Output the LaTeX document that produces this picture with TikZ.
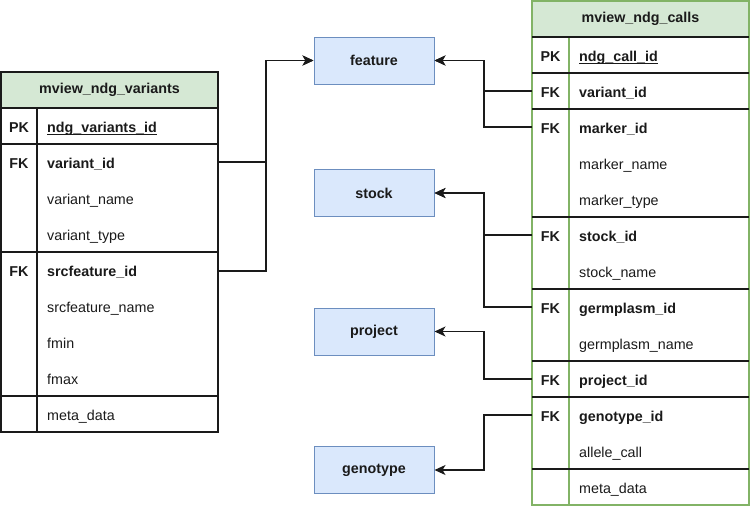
\documentclass[tikz,border=0pt]{standalone}
\usepackage{fontspec}
\setmainfont{Liberation Sans}
\usetikzlibrary{arrows.meta}
\definecolor{gborder}{HTML}{82B366}
\definecolor{gfill}{HTML}{D5E8D4}
\definecolor{bborder}{HTML}{6C8EBF}
\definecolor{bfill}{HTML}{DAE8FC}
\definecolor{ink}{HTML}{1A1A1A}
\begin{document}
\begin{tikzpicture}[x=1pt,y=-1pt,
  txt/.style={font=\fontsize{14.3}{16}\selectfont, text=ink, inner sep=0pt},
  btxt/.style={font=\fontsize{14.3}{16}\selectfont\bfseries, text=ink, inner sep=0pt},
  fld/.style={txt, anchor=base west},
  bfld/.style={btxt, anchor=base west},
  keyt/.style={btxt, anchor=base},
  tline/.style={draw=ink, line width=1.2pt},
  gline/.style={draw=gborder, line width=1.4pt},
  hdrL/.style={btxt, tline, fill=gfill, minimum width=217pt, minimum height=36pt, anchor=north west, outer sep=0pt},
  hdrR/.style={btxt, gline, fill=gfill, minimum width=217pt, minimum height=36pt, anchor=north west, outer sep=0pt},
  ent/.style={btxt, draw=bborder, fill=bfill, line width=1pt, minimum width=120pt, minimum height=47pt},
  conn/.style={draw=ink, line width=1.2pt, -{Stealth[length=11pt,width=10pt,inset=3pt]}},
  ulin/.style={draw=ink, line width=1pt}
]
\useasboundingbox (0,0) rectangle (750,507);

% ---------------- left table ----------------
\node[tline, minimum width=217pt, minimum height=324pt, anchor=north west, inner sep=0pt, outer sep=0pt] (LT) at (1,108) {};
\node[hdrL] (LH) at (1,72) {mview\_ndg\_variants};
\draw[tline] (1,144) -- (218,144);
\draw[tline] (1,252) -- (218,252);
\draw[tline] (1,396) -- (218,396);
\draw[tline] (37,108) -- (37,432);

\node[keyt] (lk1) at (19,132) {PK};
\node[bfld] (lf1) at (47,132) {ndg\_variants\_id};
\draw[ulin] ([yshift=-2pt]lf1.base west) -- ([yshift=-2pt]lf1.base east);
\node[keyt] (lk2) at (19,168) {FK};
\node[bfld] (lf2) at (47,168) {variant\_id};
\node[fld] (lf3) at (47,204) {variant\_name};
\node[fld] (lf4) at (47,240) {variant\_type};
\node[keyt] (lk5) at (19,276) {FK};
\node[bfld] (lf5) at (47,276) {srcfeature\_id};
\node[fld] (lf6) at (47,312) {srcfeature\_name};
\node[fld] (lf7) at (47,348) {fmin};
\node[fld] (lf8) at (47,384) {fmax};
\node[fld] (lf9) at (47,420) {meta\_data};

\coordinate (Lv) at (218,162);
\coordinate (Ls) at (218,271);

% ---------------- right table ----------------
\node[gline, minimum width=217pt, minimum height=468pt, anchor=north west, inner sep=0pt, outer sep=0pt] (RT) at (532,37) {};
\node[hdrR] (RH) at (532,1) {mview\_ndg\_calls};
\draw[gline] (569,37) -- (569,505);
\foreach \yy in {37,73,109,217,289,361,397,469}
  \draw[tline] (532,\yy) -- (749,\yy);

\node[keyt] (rk1) at (550.5,61) {PK};
\node[bfld] (rf1) at (579,61) {ndg\_call\_id};
\draw[ulin] ([yshift=-2pt]rf1.base west) -- ([yshift=-2pt]rf1.base east);
\node[keyt] (rk2) at (550.5,97) {FK};
\node[bfld] (rf2) at (579,97) {variant\_id};
\node[keyt] (rk3) at (550.5,133) {FK};
\node[bfld] (rf3) at (579,133) {marker\_id};
\node[fld] (rf4) at (579,169) {marker\_name};
\node[fld] (rf5) at (579,205) {marker\_type};
\node[keyt] (rk6) at (550.5,241) {FK};
\node[bfld] (rf6) at (579,241) {stock\_id};
\node[fld] (rf7) at (579,277) {stock\_name};
\node[keyt] (rk8) at (550.5,313) {FK};
\node[bfld] (rf8) at (579,313) {germplasm\_id};
\node[fld] (rf9) at (579,349) {germplasm\_name};
\node[keyt] (rk10) at (550.5,385) {FK};
\node[bfld] (rf10) at (579,385) {project\_id};
\node[keyt] (rk11) at (550.5,421) {FK};
\node[bfld] (rf11) at (579,421) {genotype\_id};
\node[fld] (rf12) at (579,457) {allele\_call};
\node[fld] (rf13) at (579,493) {meta\_data};

\coordinate (Rv) at (532,91);
\coordinate (Rm) at (532,127);
\coordinate (Rs) at (532,235);
\coordinate (Rg) at (532,307);
\coordinate (Rp) at (532,379);
\coordinate (Rt) at (532,415);

% ---------------- entities ----------------
\node[ent] (feature) at (374,60.5) {feature};
\node[ent] (stock) at (374,193) {stock};
\node[ent] (project) at (374,331.5) {project};
\node[ent] (genotype) at (374,470) {genotype};

% ---------------- connectors ----------------
\draw[conn] (Lv) -- ++(48,0) |- (feature.west);
\draw[conn] (Ls) -- ++(48,0) |- (feature.west);
\draw[conn] (Rv) -- ++(-48,0) |- (feature.east);
\draw[conn] (Rm) -- ++(-48,0) |- (feature.east);
\draw[conn] (Rs) -- ++(-48,0) |- (stock.east);
\draw[conn] (Rg) -- ++(-48,0) |- (stock.east);
\draw[conn] (Rp) -- ++(-48,0) |- (project.east);
\draw[conn] (Rt) -- ++(-48,0) |- (genotype.east);
\end{tikzpicture}
\end{document}
